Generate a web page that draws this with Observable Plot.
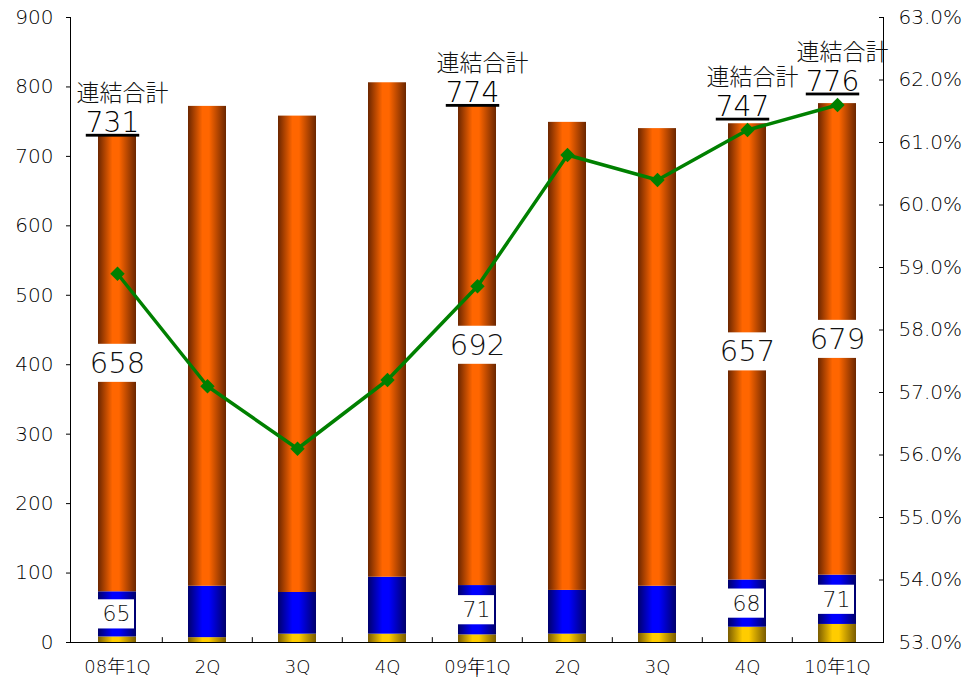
<!DOCTYPE html>
<html><head><meta charset="utf-8">
<script src="https://cdn.jsdelivr.net/npm/d3@7"></script>
<script src="https://cdn.jsdelivr.net/npm/@observablehq/plot@0.6"></script>
<style>
body{margin:0;background:#fff;}
#chart svg{display:block;}
#chart svg text{font-weight:300;}
</style></head><body><div id="chart"></div>
<script>
// ---- data ----
const tickLabels = ["08年1Q","2Q","3Q","4Q","09年1Q","2Q","3Q","4Q","10年1Q"];
const yellowVals = [8, 7, 12, 12, 11, 12, 13, 22, 26];
const blueVals   = [65, 74, 60, 82, 71, 63, 68, 68, 71];
const orangeVals = [658, 691, 686, 712, 692, 674, 659, 657, 679];
const ratioPct   = [58.9, 57.1, 56.1, 57.2, 58.7, 60.8, 60.4, 61.2, 61.6];
const labeledIdx = [0, 4, 7, 8];
const totalTitle = "連結合計";
const leftTicks  = [0,100,200,300,400,500,600,700,800,900];
const rightTicks = [53,54,55,56,57,58,59,60,61,62,63];
const leftMax = 900, rightMin = 53, rightMax = 63;

// ---- layout (pixel nudges for the total annotations) ----
const labelLift = {0: 0, 4: 0, 7: 5, 8: 10};

// ---- derived tables ----
const toLeft = p => (p - rightMin) / (rightMax - rightMin) * leftMax;
const segNames = ["yellow","blue","orange"];
const segVals = [yellowVals, blueVals, orangeVals];
const rows = [];
tickLabels.forEach((_, i) => {
  let base = 0;
  segNames.forEach((s, k) => {
    const v = segVals[k][i];
    rows.push({i, seg: s, value: v, y1: base, y2: base + v, mid: base + v / 2, fill: `url(#grad-${s})`});
    base += v;
  });
});
const totals = tickLabels.map((_, i) => ({i, total: yellowVals[i] + blueVals[i] + orangeVals[i]}));
const labelRows = rows.filter(r => labeledIdx.includes(r.i) && r.seg !== "yellow");
const orangeLab = labelRows.filter(r => r.seg === "orange");
const blueLab = labelRows.filter(r => r.seg === "blue");
const totalLab = totals.filter(t => labeledIdx.includes(t.i));
const ratioRows = ratioPct.map((p, i) => ({i, p, y: toLeft(p)}));
const FONT = "'DejaVu Sans', 'Noto Sans CJK JP', sans-serif";
const orangeHalf = 27.4, blueHalf = 21;

const totalMarks = totalLab.flatMap(t => {
  const lift = labelLift[t.i] || 0;
  return [
    Plot.text([t], {x: "i", y: "total", text: () => totalTitle, fontSize: 23, fill: "#111", lineAnchor: "middle", dx: 5, dy: -41 - lift}),
    Plot.text([t], {x: "i", y: "total", text: d => String(d.total), fontSize: 28, fill: "#000", lineAnchor: "middle", dx: -5, dy: -12 - lift, ariaDescription: "total-values"})
  ];
});

const plot = Plot.plot({
  width: 963, height: 679,
  marginTop: 17, marginBottom: 37, marginLeft: 70, marginRight: 80,
  style: {fontFamily: FONT, fontSize: "20px", color: "#000", background: "#fff"},
  x: {type: "band", domain: d3.range(tickLabels.length), paddingInner: 0.58, paddingOuter: 0.29, axis: null},
  y: {domain: [0, leftMax], axis: null},
  color: {type: "identity"},
  marks: [
    Plot.barY(rows, {x: "i", y1: "y1", y2: "y2", fill: "fill"}),
    Plot.barY(orangeLab, {x: "i", y1: d => d.mid - orangeHalf, y2: d => d.mid + orangeHalf, fill: "white"}),
    Plot.barY(blueLab, {x: "i", y1: d => d.mid - blueHalf, y2: d => d.mid + blueHalf, fill: "white", insetRight: 2}),
    Plot.text(orangeLab, {x: "i", y: "mid", text: d => String(d.value), fontSize: 29, fill: "#111", lineAnchor: "middle"}),
    Plot.text(blueLab, {x: "i", y: "mid", text: d => String(d.value), fontSize: 22, fill: "#111", lineAnchor: "middle", dx: -1}),
    Plot.line(ratioRows, {x: "i", y: "y", stroke: "#008000", strokeWidth: 3.5}),
    Plot.dot(ratioRows, {x: "i", y: "y", symbol: "diamond2", r: 6.5, fill: "#008000", stroke: "none"}),
    ...totalMarks,
    Plot.ruleX(d3.range(1, tickLabels.length), {x: d => d, y1: 0, y2: 7, dx: -45.2, stroke: "#000"}),
    Plot.frame({anchor: "left", stroke: "#000"}),
    Plot.frame({anchor: "right", stroke: "#000"}),
    Plot.frame({anchor: "bottom", stroke: "#000"}),
    Plot.axisY({anchor: "left", ticks: leftTicks, tickSize: 4, tickPadding: 13, fontSize: 20, tickFormat: d => String(d)}),
    Plot.axisY({anchor: "right", ticks: rightTicks.map(toLeft), tickSize: -5, tickPadding: 20, fontSize: 20,
      tickFormat: v => (rightMin + v / leftMax * (rightMax - rightMin)).toFixed(1) + "%"}),
    Plot.axisX({anchor: "bottom", tickSize: 0, tickPadding: 18, fontSize: 18, tickFormat: i => tickLabels[i]})
  ]
});

// gradients for the cylinder-like bars
const ns = "http://www.w3.org/2000/svg";
const defs = document.createElementNS(ns, "defs");
const grads = {
  orange: ["#6b2600", "#ff6600", "#ff6600", "#6b2600"],
  blue: ["#00006b", "#0000ff", "#0000ff", "#00006b"],
  yellow: ["#7a5c00", "#ffcc00", "#ffcc00", "#7a5c00"]
};
const offs = ["0%", "38%", "55%", "100%"];
for (const [name, cols] of Object.entries(grads)) {
  const g = document.createElementNS(ns, "linearGradient");
  g.setAttribute("id", "grad-" + name);
  g.setAttribute("x1", "0"); g.setAttribute("x2", "1"); g.setAttribute("y1", "0"); g.setAttribute("y2", "0");
  cols.forEach((c, k) => {
    const s = document.createElementNS(ns, "stop");
    s.setAttribute("offset", offs[k]); s.setAttribute("stop-color", c);
    g.appendChild(s);
  });
  defs.appendChild(g);
}
plot.insertBefore(defs, plot.firstChild);
d3.select(plot).selectAll('g[aria-description="total-values"] text').style("text-decoration", "underline");
document.getElementById("chart").appendChild(plot);
</script>
</body></html>
